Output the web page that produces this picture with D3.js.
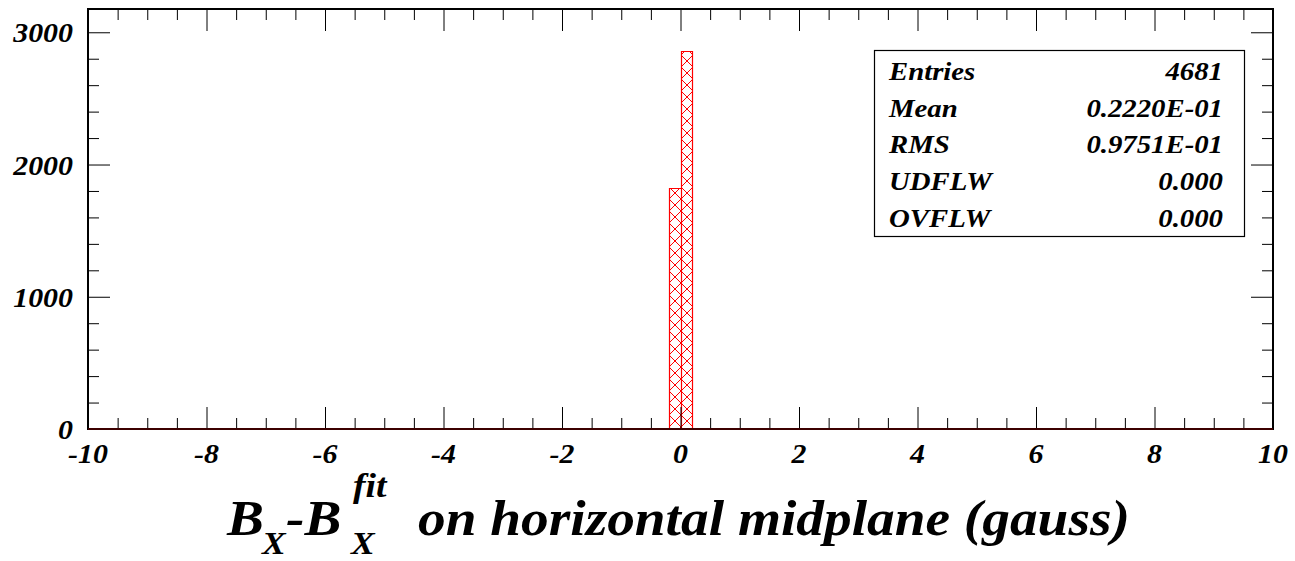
<!DOCTYPE html>
<html>
<head>
<meta charset="utf-8">
<script src="https://cdn.jsdelivr.net/npm/d3@7/dist/d3.min.js"></script>
<style>
  html, body { margin: 0; padding: 0; background: #fff; }
  svg { display: block; }
  text { font-family: "Liberation Serif", "Times New Roman", Tinos, Times, "Nimbus Roman", "FreeSerif", serif; font-weight: bold; font-style: italic; fill: #000; }
</style>
</head>
<body>
<div id="chart"></div>
<script>
// ---- data ----
const histRange = [-10, 10];
const binLows = [-0.2, 0.0];
const binHighs = [0.0, 0.2];
const binCounts = [1820, 2861];
const xMajorTicks = [-10, -8, -6, -4, -2, 0, 2, 4, 6, 8, 10];
const xTickLabels = ["-10", "-8", "-6", "-4", "-2", "0", "2", "4", "6", "8", "10"];
const yMajorTicks = [0, 1000, 2000, 3000];
const yTickLabels = ["0", "1000", "2000", "3000"];
const statLabels = ["Entries", "Mean", "RMS", "UDFLW", "OVFLW"];
const statValues = ["4681", "0.2220E-01", "0.9751E-01", "0.000", "0.000"];

(function () {
// ---- layout ----
const W = 1295, H = 561;
const pL = 88, pR = 1273, pT = 9, pB = 429;
const svg = d3.select("#chart").append("svg").attr("width", W).attr("height", H);

const x = d3.scaleLinear().domain(histRange).range([pL, pR]);
const y = d3.scaleLinear().domain([0, 3176]).range([pB, pT]);

const xMinor = d3.range(histRange[0], histRange[1] + 0.001, 0.5).filter(v => !xMajorTicks.some(m => Math.abs(m - v) < 1e-6));
const yMinor = d3.range(0, 3176, 200).filter(v => !yMajorTicks.includes(v));

// hatch pattern
const defs = svg.append("defs");
const pat = defs.append("pattern").attr("id", "hatch")
  .attr("patternUnits", "userSpaceOnUse").attr("width", 12).attr("height", 12)
  .attr("x", 3).attr("y", 1);
pat.append("path").attr("d", "M-1,-1 L13,13 M-1,13 L13,-1")
  .attr("stroke", "#ff0000").attr("stroke-width", 1).attr("fill", "none");

// bars
const bins = binLows.map((lo, i) => ({ lo, hi: binHighs[i], n: binCounts[i] }));
svg.append("g").selectAll("rect").data(bins).join("rect")
  .attr("x", d => x(d.lo) + 0.5)
  .attr("y", d => y(d.n) + 0.5)
  .attr("width", d => x(d.hi) - x(d.lo))
  .attr("height", d => y(0) - y(d.n))
  .attr("fill", "url(#hatch)");

// histogram outline (step)
let pts = [[x(histRange[0]), y(0)]];
bins.forEach(b => {
  pts.push([x(b.lo), y(0)]);
  pts.push([x(b.lo), y(b.n)]);
  pts.push([x(b.hi), y(b.n)]);
  pts.push([x(b.hi), y(0)]);
});
pts.push([x(histRange[1]), y(0)]);
svg.append("path")
  .attr("d", d3.line()(pts.map(p => [Math.round(p[0]) + 0.5, Math.round(p[1]) + 0.5])))
  .attr("fill", "none").attr("stroke", "#ff0000").attr("stroke-width", 1.2);

// axes ticks
function styleAxis(g) {
  g.select(".domain").remove();
  g.selectAll("text").remove();
  g.selectAll("line").attr("stroke", "#000").attr("stroke-width", 1);
}
svg.append("g").attr("transform", `translate(0,${pB})`)
  .call(d3.axisBottom(x).tickValues(xMajorTicks).tickSize(-22)).call(styleAxis);
svg.append("g").attr("transform", `translate(0,${pB})`)
  .call(d3.axisBottom(x).tickValues(xMinor).tickSize(-11)).call(styleAxis);
svg.append("g").attr("transform", `translate(0,${pT})`)
  .call(d3.axisTop(x).tickValues(xMajorTicks).tickSize(-22)).call(styleAxis);
svg.append("g").attr("transform", `translate(0,${pT})`)
  .call(d3.axisTop(x).tickValues(xMinor).tickSize(-11)).call(styleAxis);
svg.append("g").attr("transform", `translate(${pL},0)`)
  .call(d3.axisLeft(y).tickValues(yMajorTicks).tickSize(-22)).call(styleAxis);
svg.append("g").attr("transform", `translate(${pL},0)`)
  .call(d3.axisLeft(y).tickValues(yMinor).tickSize(-11)).call(styleAxis);
svg.append("g").attr("transform", `translate(${pR},0)`)
  .call(d3.axisRight(y).tickValues(yMajorTicks).tickSize(-22)).call(styleAxis);
svg.append("g").attr("transform", `translate(${pR},0)`)
  .call(d3.axisRight(y).tickValues(yMinor).tickSize(-11)).call(styleAxis);

// frame
svg.append("rect").attr("x", pL).attr("y", pT)
  .attr("width", pR - pL).attr("height", pB - pT)
  .attr("fill", "none").attr("stroke", "#000").attr("stroke-width", 2);
svg.append("line").attr("x1", pL).attr("x2", pR).attr("y1", pB).attr("y2", pB)
  .attr("stroke", "rgba(110,0,0,0.55)").attr("stroke-width", 2);

// measure the font to get a horizontal scale that matches the reference widths
const probe = svg.append("text").attr("font-size", 50).text("on horizontal midplane (gauss)");
const probeLen = probe.node().getComputedTextLength();
probe.remove();
const k = probeLen > 0 ? 712 / probeLen : 1.1;

// text helper
function label(txt, px, py, size, anchor) {
  return svg.append("text")
    .attr("transform", `translate(${px},${py}) scale(${k},1)`)
    .attr("font-size", size).attr("text-anchor", anchor || "start").text(txt);
}

// tick labels
xMajorTicks.forEach((v, i) => label(xTickLabels[i], x(v), 463, 27, "middle"));
yMajorTicks.forEach((v, i) => label(yTickLabels[i], 73, y(v) + 10, 27, "end"));

// stats box
svg.append("rect").attr("x", 874.5).attr("y", 50.5).attr("width", 370).attr("height", 186)
  .attr("fill", "#fff").attr("stroke", "#000").attr("stroke-width", 1.2);
const statBase = [79.5, 116.5, 153, 190, 226.5];
statLabels.forEach((s, i) => {
  label(s, 889, statBase[i], 26, "start");
  label(statValues[i], 1223, statBase[i], 26, "end");
});

// x axis title: B_X - B_X^fit  (one text with positioned tspans)
const sym = svg.append("text").attr("transform", `scale(${k},1)`);
const parts = [
  { t: "B",   px: 227, py: 535, fs: 50 },
  { t: "X",   px: 262, py: 554, fs: 32 },
  { t: "-B",  px: 286, py: 535, fs: 50 },
  { t: "X",   px: 351, py: 554, fs: 32 },
  { t: "fit", px: 353, py: 497, fs: 34 }
];
parts.forEach(p => sym.append("tspan").attr("x", p.px / k).attr("y", p.py)
  .attr("font-size", p.fs).text(p.t));
label("on horizontal midplane (gauss)", 418, 535, 50, "start");
})();
</script>
</body>
</html>
